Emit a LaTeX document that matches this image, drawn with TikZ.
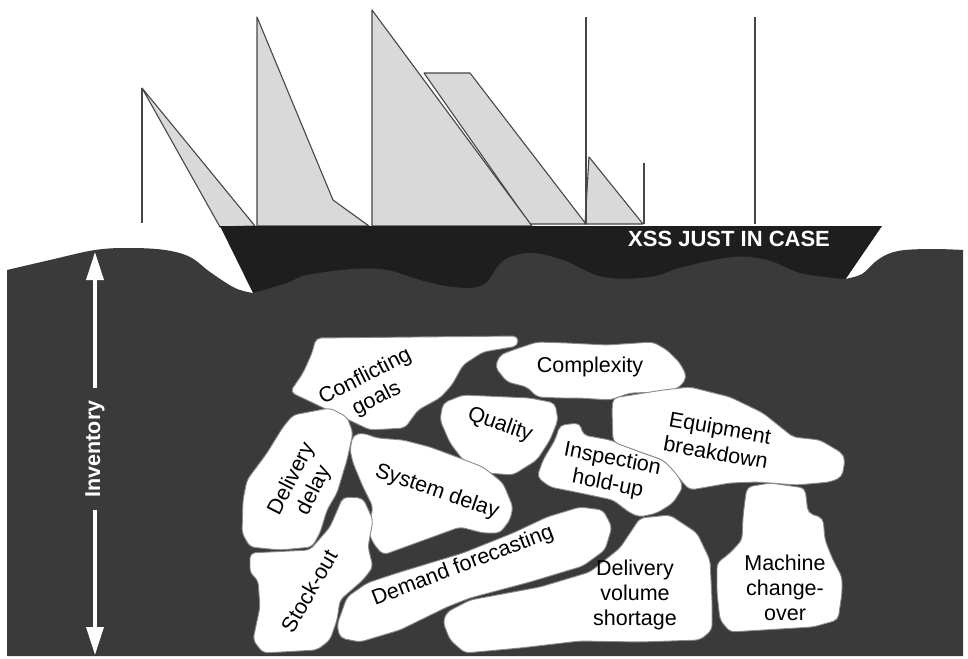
\documentclass[tikz,border=0pt]{standalone}
\usepackage{fontspec}
\setmainfont{Liberation Sans}
\usetikzlibrary{arrows.meta}
\definecolor{sea}{HTML}{3A3A3A}
\definecolor{hull}{HTML}{1E1E1E}
\definecolor{sail}{HTML}{D9D9D9}
\definecolor{rig}{HTML}{474747}
\definecolor{rockedge}{HTML}{8A8A8A}

\begin{document}
\begin{tikzpicture}[x=1pt,y=-1pt,
  sailshape/.style={fill=sail,draw=rig,line width=1.1pt,line join=round},
  mast/.style={draw=rig,line width=1.3pt},
  rock/.style={fill=white,draw=rockedge,line width=0.9pt,rounded corners=5pt},
  rocklabel/.style={font=\fontsize{21.5}{25}\selectfont,align=center,inner sep=0pt},
  arrowline/.style={draw=white,line width=3.5pt,-{Triangle[length=28pt,width=17pt]}}]
\useasboundingbox (0,0) rectangle (968,658);

% ---------- sails and masts ----------
\filldraw[sailshape] (424,73) -- (470,73) -- (586,224) -- (530,224) -- cycle;
\filldraw[sailshape] (372,10) -- (532,226) -- (372,226) -- cycle;
\filldraw[sailshape] (142,88) -- (255,226) -- (220,227) -- cycle;
\filldraw[sailshape] (257,17) -- (333,200) -- (369,226) -- (257,226) -- cycle;
\filldraw[sailshape] (589,157) -- (643,224) -- (585,224) -- cycle;
\draw[mast] (142,88) -- (142,223);
\draw[mast] (586,17) -- (586,224);
\draw[mast] (644,163) -- (644,224);
\draw[mast] (755,17) -- (755,224);

% ---------- hull ----------
\fill[hull] (220,226) -- (882,226) -- (845,280) -- (845,330) -- (253,330) -- (253,293) -- cycle;
\node[text=white,font=\fontsize{22}{22}\bfseries\selectfont,anchor=base west,inner sep=0pt]
  (shipname) at (628,246) {XSS JUST IN CASE};

% ---------- sea ----------
\fill[sea]
  plot[smooth,tension=0.6] coordinates {(7,270) (50,260) (95,250) (130,248) (165,250)
      (190,257) (210,272) (235,288) (253,293)}
  -- plot[smooth,tension=0.6] coordinates {(253,293) (287,283) (307,275) (353,269) (387,270)
      (420,280) (453,287) (483,285) (503,261) (530,253) (563,260) (603,277) (650,277)
      (683,267) (733,257) (767,260) (800,273) (833,278) (845,279)}
  -- plot[smooth,tension=0.6] coordinates {(845,279) (862,274) (875,262) (888,254)
      (905,250) (935,249) (963,250)}
  -- (963,656) -- (7,656) -- cycle;

% ---------- rocks ----------
\filldraw[rock] (316,338) -- (518,336) -- (518,346) -- (483,352) -- (463,365) -- (452,385)
  -- (440,398) -- (418,410) -- (405,428) -- (370,430) -- (290,392) -- (303,373) -- (312,353) -- cycle;
\filldraw[rock] (495,367) -- (500,355) -- (513,350) -- (537,342) -- (567,343) -- (607,345)
  -- (653,342) -- (667,350) -- (680,363) -- (687,377) -- (680,387) -- (667,392) -- (630,393)
  -- (610,400) -- (580,398) -- (560,398) -- (537,397) -- (527,387) -- (507,382) -- cycle;
\filldraw[rock] (443,403) -- (463,395) -- (530,398) -- (555,403) -- (558,420) -- (550,440)
  -- (537,460) -- (513,475) -- (487,473) -- (463,460) -- (450,443) -- (440,420) -- cycle;
\filldraw[rock] (293,415) -- (330,408) -- (347,417) -- (353,433) -- (347,460) -- (337,493)
  -- (327,510) -- (320,533) -- (312,547) -- (280,550) -- (250,547) -- (242,533) -- (243,500)
  -- (247,480) -- (267,453) -- (283,427) -- cycle;
\filldraw[rock] (353,435) -- (363,433) -- (377,438) -- (403,440) -- (430,447) -- (457,457)
  -- (483,467) -- (503,483) -- (513,507) -- (510,520) -- (500,533) -- (483,533) -- (460,527)
  -- (383,555) -- (373,543) -- (368,530) -- (373,507) -- (363,487) -- (353,463) -- (350,450) -- cycle;
\filldraw[rock] (250,553) -- (310,550) -- (330,527) -- (343,497) -- (363,498) -- (373,520)
  -- (368,547) -- (373,567) -- (363,580) -- (340,600) -- (337,620) -- (330,640) -- (317,650)
  -- (263,653) -- (253,640) -- (260,607) -- (258,580) -- (250,573) -- cycle;
\filldraw[rock] (447,612) -- (470,600) -- (540,587) -- (590,572) -- (620,548) -- (640,518)
  -- (670,515) -- (697,533) -- (710,560) -- (712,600) -- (712,630) -- (700,640) -- (640,642)
  -- (580,641) -- (520,648) -- (465,653) -- (450,640) -- (443,622) -- cycle;
\filldraw[rock] (337,625) -- (347,597) -- (367,583) -- (397,573) -- (463,553) -- (513,533)
  -- (547,517) -- (580,507) -- (603,510) -- (612,527) -- (605,550) -- (583,566) -- (530,582)
  -- (470,598) -- (447,607) -- (400,630) -- (360,642) -- (340,638) -- cycle;
\filldraw[rock] (560,425) -- (580,423) -- (583,435) -- (610,440) -- (643,453) -- (663,460)
  -- (677,473) -- (683,487) -- (673,503) -- (657,513) -- (640,517) -- (630,513) -- (613,500)
  -- (580,493) -- (550,487) -- (537,477) -- (543,460) -- (555,440) -- cycle;
\filldraw[rock] (613,398) -- (663,390) -- (690,387) -- (730,397) -- (763,413) -- (793,437)
  -- (820,440) -- (842,453) -- (845,460) -- (842,477) -- (830,482) -- (797,485) -- (757,482)
  -- (730,483) -- (690,490) -- (683,483) -- (673,470) -- (663,460) -- (643,453) -- (613,442)
  -- (612,410) -- cycle;
\filldraw[rock] (747,487) -- (770,483) -- (805,488) -- (808,513) -- (823,518) -- (825,540)
  -- (833,560) -- (842,577) -- (842,593) -- (838,620) -- (813,627) -- (763,630) -- (730,632)
  -- (720,620) -- (717,593) -- (717,563) -- (730,553) -- (742,540) -- (743,517) -- (745,500) -- cycle;

% ---------- rock labels ----------
\node[rocklabel,rotate=27]  (conflict) at (371,388) {Conflicting\\goals};
\node[rocklabel]            (complex)  at (590,367) {Complexity};
\node[rocklabel,rotate=-19] (quality)  at (500,425) {Quality};
\node[rocklabel,rotate=-10] (equip)    at (718,440) {Equipment\\breakdown};
\node[rocklabel,rotate=63]  (deldelay) at (303,485) {Delivery\\delay};
\node[rocklabel,rotate=-19] (sysdelay) at (437,492) {System delay};
\node[rocklabel,rotate=-11] (inspect)  at (610,472) {Inspection\\hold-up};
\node[rocklabel,rotate=60]  (stockout) at (309,591) {Stock-out};
\node[rocklabel,rotate=21]  (demand)   at (463,566) {Demand forecasting};
\node[rocklabel]            (volume)   at (635,595) {Delivery\\volume\\shortage};
\node[rocklabel]            (machine)  at (785,588) {Machine\\change-\\over};

% ---------- inventory depth arrow ----------
\coordinate (invtop) at (95,252);
\coordinate (invbot) at (95,655);
\node[rotate=90,text=white,font=\fontsize{21.5}{21.5}\bfseries\selectfont,inner sep=12pt]
  (inv) at (95,449) {Inventory};
\draw[arrowline] (inv.east) -- (invtop);
\draw[arrowline] (inv.west) -- (invbot);
\end{tikzpicture}
\end{document}
